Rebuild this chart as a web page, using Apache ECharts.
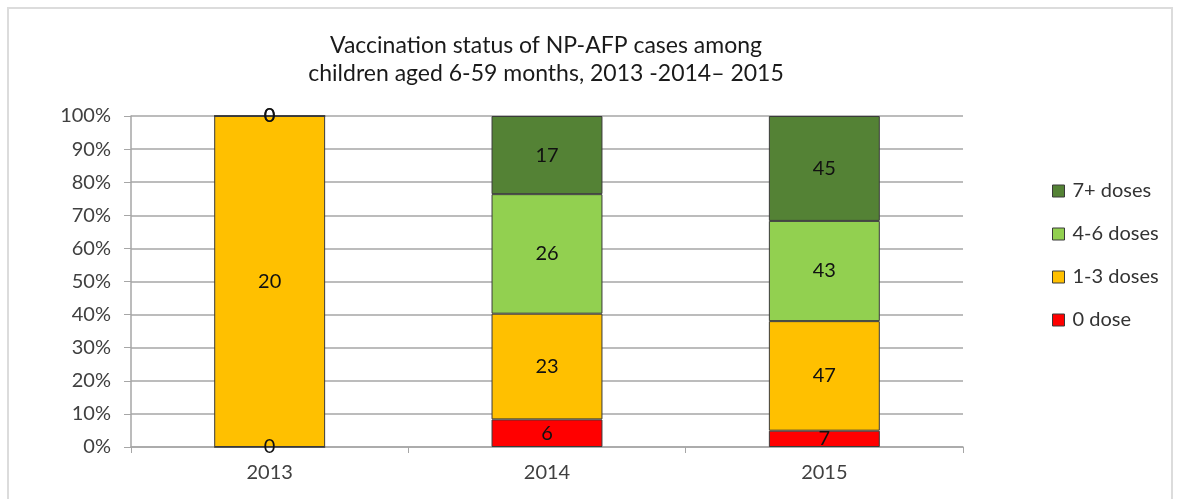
<!DOCTYPE html>
<html>
<head>
<meta charset="utf-8">
<script src="https://cdn.jsdelivr.net/npm/echarts@6/dist/echarts.min.js"></script>
<style>
html,body{margin:0;padding:0;background:#fff;}
#frame{position:absolute;left:7px;top:7px;width:1166px;height:500px;border:2px solid #dcdcdc;border-bottom:none;box-sizing:border-box;}
#chart{position:absolute;left:0;top:0;width:1178px;height:499px;}
</style>
</head>
<body>
<div id="frame"></div>
<div id="chart"></div>
<script>
const titleText = 'Vaccination status of NP-AFP cases among\nchildren aged 6-59 months, 2013 -2014\u2013 2015';
const categories = ['2013', '2014', '2015'];
const dose0 = [0, 6, 7];
const dose1to3 = [20, 23, 47];
const dose4to6 = [0, 26, 43];
const dose7plus = [0, 17, 45];
const seriesNames = ['0 dose', '1-3 doses', '4-6 doses', '7+ doses'];
const colors = ['#ff0000', '#ffc000', '#92d050', '#548235'];

const raw = [dose0, dose1to3, dose4to6, dose7plus];
const totals = categories.map((c, i) => raw.reduce((s, arr) => s + arr[i], 0));

const series = raw.map((arr, k) => ({
  name: seriesNames[k],
  type: 'bar',
  stack: 'total',
  barWidth: '40%',
  itemStyle: { color: colors[k], borderColor: '#3a3a3a', borderWidth: 1 },
  label: {
    show: true,
    position: 'inside',
    color: '#111',
    fontSize: 20,
    fontFamily: 'Lato',
    formatter: p => String(arr[p.dataIndex])
  },
  data: arr.map((v, i) => totals[i] ? v / totals[i] * 100 : 0)
}));

const chart = echarts.init(document.getElementById('chart'));
chart.setOption({
  animation: false,
  title: {
    text: titleText,
    left: 541,
    top: 27,
    textAlign: 'center',
    textStyle: { fontFamily: 'Lato', fontSize: 23, fontWeight: 'normal', color: '#1a1a1a', lineHeight: 28 }
  },
  legend: {
    orient: 'vertical',
    left: 1052,
    top: 181,
    padding: 0,
    itemWidth: 12,
    itemHeight: 12,
    itemGap: 23,
    icon: 'rect',
    data: seriesNames.slice().reverse(),
    textStyle: { fontFamily: 'Lato', fontSize: 20, color: '#333', padding: [0, 0, 0, 3] },
    itemStyle: { borderColor: '#3a3a3a', borderWidth: 1 }
  },
  grid: { left: 131, right: 215, top: 116, bottom: 52 },
  xAxis: {
    type: 'category',
    data: categories,
    axisLine: { lineStyle: { color: '#a6a6a6', width: 1.5 } },
    axisTick: { show: true, alignWithLabel: false, length: 6, lineStyle: { color: '#a6a6a6' } },
    axisLabel: { fontFamily: 'Lato', fontSize: 20, color: '#404040', margin: 16 }
  },
  yAxis: {
    type: 'value',
    min: 0,
    max: 100,
    interval: 10,
    axisLine: { show: true, lineStyle: { color: '#a6a6a6', width: 1.5 } },
    axisTick: { show: true, length: 7, lineStyle: { color: '#a6a6a6' } },
    splitLine: { lineStyle: { color: '#a6a6a6', width: 1.5 } },
    axisLabel: { fontFamily: 'Lato', fontSize: 20, color: '#404040', margin: 20, formatter: '{value}%' }
  },
  series: series
});
</script>
</body>
</html>
